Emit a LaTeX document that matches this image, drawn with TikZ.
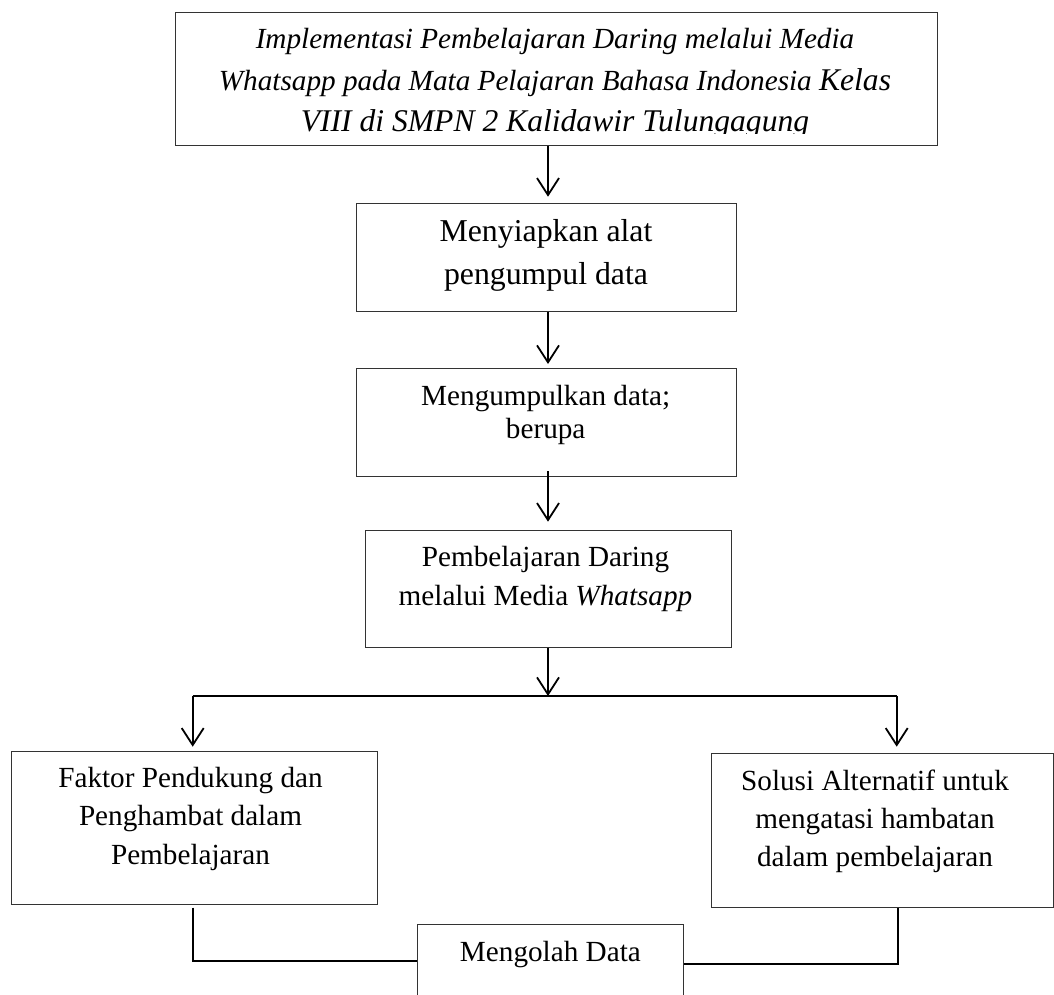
\documentclass[tikz,border=0pt]{standalone}
\usepackage{fontspec}
\setmainfont{Liberation Serif}
\usetikzlibrary{arrows.meta}
\begin{document}
\begin{tikzpicture}[x=1pt,y=-1pt,
  box/.style={draw=black!80, line width=1pt, inner sep=0pt, anchor=north west},
  txt/.style={align=center, inner sep=0pt, anchor=base},
  flow/.style={line width=1.8pt, -{Straight Barb[length=17pt,width=22pt]}},
  link/.style={line width=1.8pt}]
\useasboundingbox (0,0) rectangle (1054,994);
\clip (0,0) rectangle (1054,994);
% boxes
\node[box, minimum width=761.7pt, minimum height=133.3pt] (T) at (175,11.7) {};
\node[box, minimum width=380pt, minimum height=108.3pt] (B2) at (355.5,202.7) {};
\node[box, minimum width=380pt, minimum height=108pt] (B3) at (355.7,367.7) {};
\node[box, minimum width=366.3pt, minimum height=117pt] (B4) at (365,529.7) {};
\node[box, minimum width=366pt, minimum height=153.3pt] (L) at (10.7,750.7) {};
\node[box, minimum width=342.3pt, minimum height=154.3pt] (R) at (711,752.7) {};
\node[box, minimum width=266.6pt, minimum height=100pt] (M) at (416.7,924) {};
% texts (anchor base = baseline of the last line)
\begin{scope}
\clip (175,11.7) rectangle (937,133.5);
\node[txt, font={\fontsize{29.2}{41.7}\selectfont\itshape}] (tT) at (555,131.7)
  {Implementasi Pembelajaran Daring melalui Media\\Whatsapp pada Mata Pelajaran Bahasa Indonesia {\fontsize{31.6}{41.7}\selectfont\itshape Kelas}\\{\fontsize{31.6}{41.7}\selectfont\itshape VIII di SMPN 2 Kalidawir Tulungagung}};
\end{scope}
\node[txt, font={\fontsize{31.8}{42.3}\selectfont}] (t2) at (546,284) {Menyiapkan alat\\pengumpul data};
\node[txt, font={\fontsize{29.2}{33}\selectfont}] (t3) at (545.7,438) {Mengumpulkan data;\\berupa};
\node[txt, font={\fontsize{29.2}{38.3}\selectfont}] (t4) at (545.5,605) {Pembelajaran Daring\\melalui Media \textit{Whatsapp}};
\node[txt, font={\fontsize{29.2}{38.5}\selectfont}] (tL) at (190.5,864) {Faktor Pendukung dan\\Penghambat dalam\\Pembelajaran};
\node[txt, font={\fontsize{29.2}{38.3}\selectfont}] (tR) at (875,866.7) {Solusi Alternatif untuk\\mengatasi hambatan\\dalam pembelajaran};
\node[txt, font={\fontsize{29.2}{35}\selectfont}] (tM) at (550.4,961) {Mengolah Data};
% connectors
\coordinate (ax) at (548,0);
\coordinate (split) at (548,696);
\coordinate (sl) at (192.7,696);
\coordinate (sr) at (896.7,696);
\coordinate (ml) at (192.7,961);
\coordinate (mr) at (897.7,964);
\draw[flow, shorten >=6pt] (T.south -| ax) -- (B2.north -| ax);
\draw[flow, shorten >=3.7pt] (B2.south -| ax) -- (B3.north -| ax);
\draw[flow, shorten <=-5.7pt, shorten >=8pt] (B3.south -| ax) -- (B4.north -| ax);
\draw[flow] (B4.south -| ax) -- (split);
\draw[link] (sl) -- (sr);
\draw[flow, shorten >=4pt] (sl) -- (L.north -| sl);
\draw[flow, shorten >=6pt] (sr) -- (R.north -| sr);
\draw[link, shorten <=2.7pt] (L.south -| ml) -- (ml) -- (ml -| M.west);
\draw[link] (R.south -| mr) -- (mr) -- (mr -| M.east);
\end{tikzpicture}
\end{document}
